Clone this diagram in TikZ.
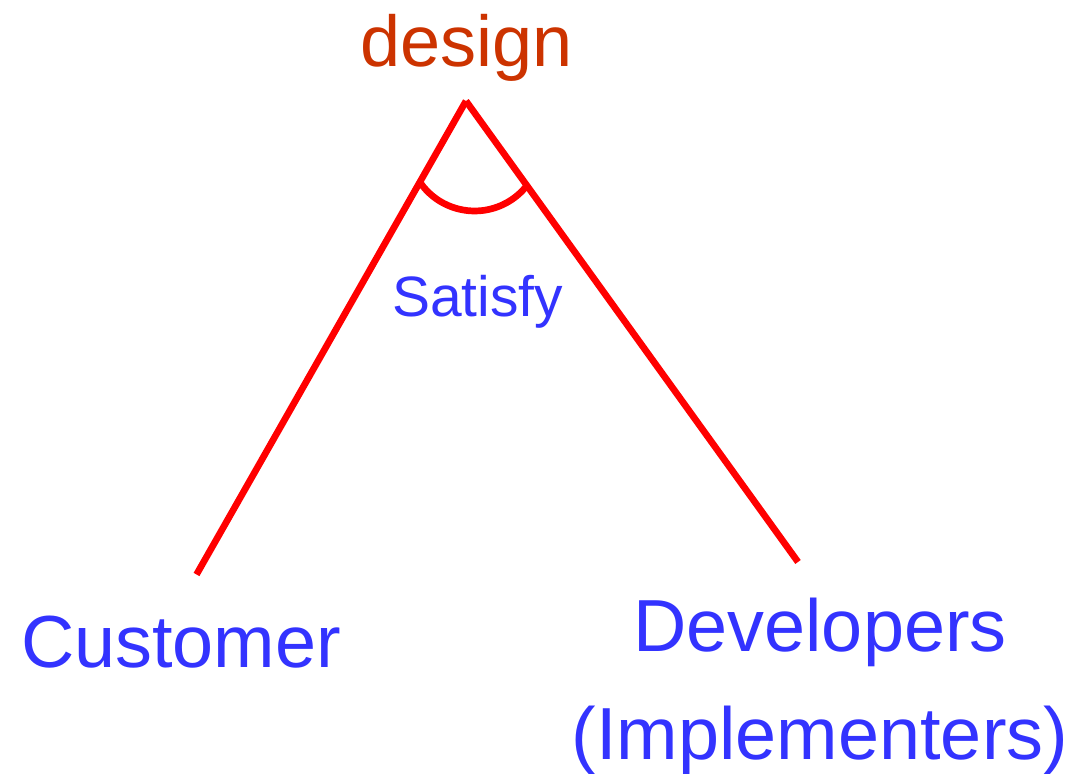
\documentclass[tikz,border=0pt]{standalone}
\usepackage{fontspec}
\setmainfont{Liberation Sans}
\usepackage{tikz}
\definecolor{roleblue}{HTML}{3333FF}
\definecolor{designred}{HTML}{CC3300}
\tikzset{
	role/.style={text=roleblue,inner sep=0pt,anchor=base,font=\fontsize{42}{61.5}\selectfont},
	tri/.style={draw=red,line width=3.8pt}
}
\begin{document}
\begin{tikzpicture}
	\useasboundingbox (0,0) rectangle (21.48,15.48);
	\coordinate (top) at (9.32,13.46);
	\coordinate (cend) at (3.93,3.99);
	\coordinate (dend) at (15.96,4.24);
	\node[inner sep=0pt,anchor=base,text=designred,font=\fontsize{41}{49}\selectfont] (design) at (9.33,14.14) {design};
	\node[role] (cust) at (3.62,2.12) {Customer};
	\node[role,align=center] (dev) at (16.40,0.28) {Developers\\(Implementers)};
	\node[inner sep=0pt,anchor=base,text=roleblue,font=\fontsize{32.4}{39}\selectfont] (sat) at (9.55,9.14) {Satisfy};
	\draw[tri] (top) -- (cend);
	\draw[tri] (top) -- (dend);
	% angle mark
	\draw[tri] (9.492,12.588) ++(215.7:1.328) arc (215.7:320.7:1.328);
\end{tikzpicture}
\end{document}
